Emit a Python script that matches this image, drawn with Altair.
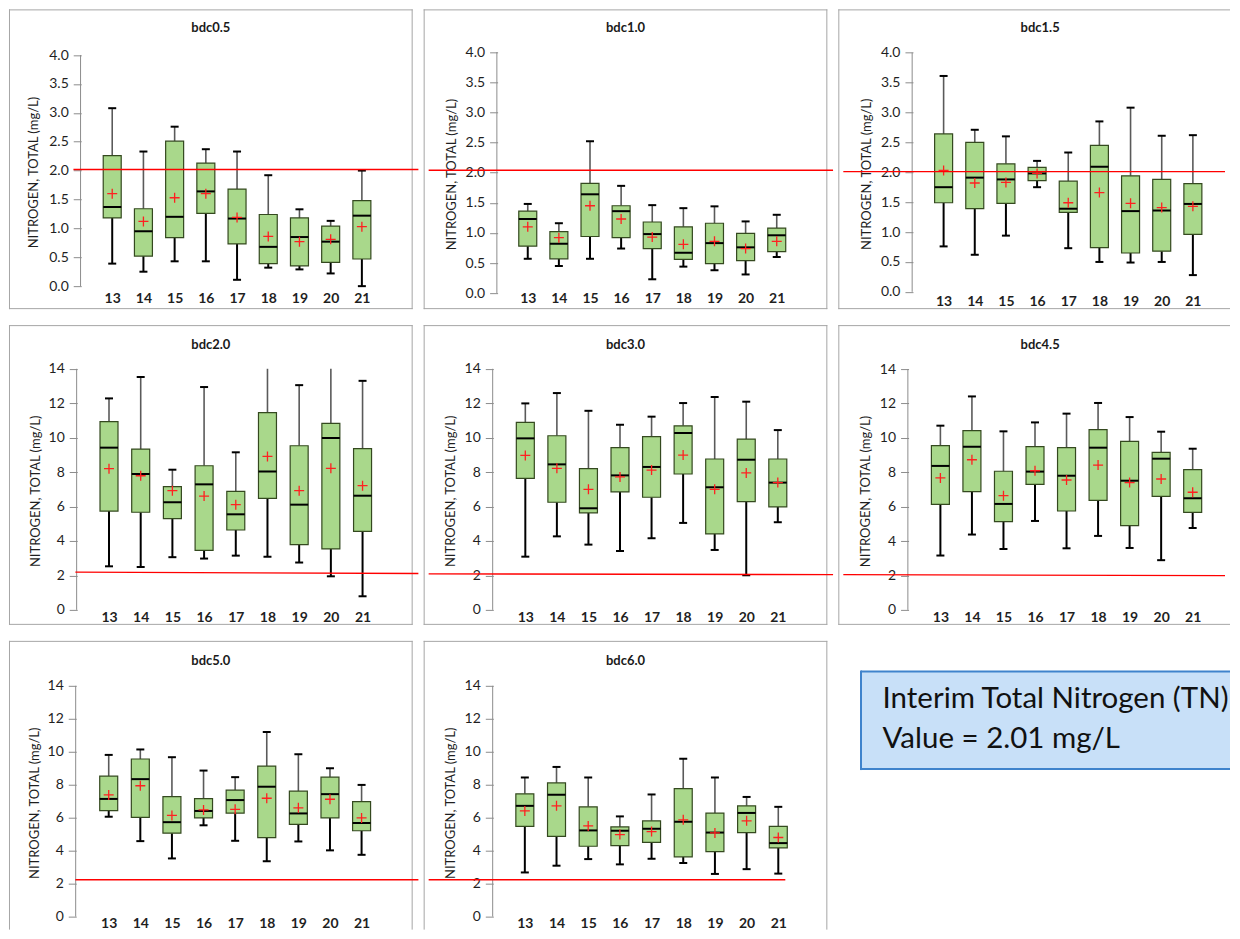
import altair as alt
import pandas as pd

YEARS = [13, 14, 15, 16, 17, 18, 19, 20, 21]
Y_TITLE = "NITROGEN, TOTAL (mg/L)"
TICKS_SMALL = [0.0, 0.5, 1.0, 1.5, 2.0, 2.5, 3.0, 3.5, 4.0]
TICKS_LARGE = [0, 2, 4, 6, 8, 10, 12, 14]
BOX_TEXT = "Interim Total Nitrogen (TN)\nValue = 2.01 mg/L"

# ---- bdc0.5
LOW_05 = [0.39, 0.25, 0.43, 0.43, 0.11, 0.32, 0.29, 0.22, 0.00]
Q1_05 = [1.18, 0.52, 0.84, 1.26, 0.73, 0.39, 0.35, 0.41, 0.47]
MED_05 = [1.37, 0.95, 1.20, 1.64, 1.17, 0.68, 0.85, 0.77, 1.22]
Q3_05 = [2.26, 1.34, 2.51, 2.13, 1.68, 1.24, 1.18, 1.04, 1.48]
HIGH_05 = [3.08, 2.33, 2.76, 2.37, 2.33, 1.92, 1.33, 1.13, 2.00]
MEAN_05 = [1.60, 1.12, 1.53, 1.60, 1.19, 0.86, 0.77, 0.81, 1.03]
# ---- bdc1.0
LOW_10 = [0.57, 0.45, 0.57, 0.74, 0.23, 0.44, 0.38, 0.31, 0.60]
Q1_10 = [0.78, 0.57, 0.94, 0.92, 0.74, 0.56, 0.49, 0.54, 0.69]
MED_10 = [1.23, 0.82, 1.64, 1.36, 0.98, 0.67, 0.83, 0.76, 0.96]
Q3_10 = [1.36, 1.02, 1.82, 1.45, 1.18, 1.10, 1.16, 0.99, 1.08]
HIGH_10 = [1.48, 1.16, 2.52, 1.78, 1.46, 1.41, 1.44, 1.19, 1.30]
MEAN_10 = [1.10, 0.92, 1.45, 1.23, 0.93, 0.81, 0.86, 0.74, 0.86]
# ---- bdc1.5
LOW_15 = [0.76, 0.62, 0.94, 1.75, 0.73, 0.50, 0.49, 0.50, 0.28]
Q1_15 = [1.49, 1.39, 1.48, 1.86, 1.33, 0.74, 0.65, 0.68, 0.96]
MED_15 = [1.75, 1.91, 1.88, 1.98, 1.39, 2.09, 1.35, 1.36, 1.47]
Q3_15 = [2.64, 2.50, 2.14, 2.08, 1.85, 2.45, 1.94, 1.88, 1.81]
HIGH_15 = [3.61, 2.71, 2.60, 2.19, 2.33, 2.85, 3.08, 2.61, 2.62]
MEAN_15 = [2.03, 1.82, 1.83, 1.98, 1.49, 1.66, 1.48, 1.41, 1.43]
# ---- bdc2.0
LOW_20 = [2.53, 2.49, 3.06, 2.98, 3.15, 3.09, 2.75, 1.95, 0.79]
Q1_20 = [5.74, 5.67, 5.30, 3.46, 4.64, 6.48, 3.79, 3.54, 4.56]
MED_20 = [9.42, 7.89, 6.25, 7.29, 5.55, 8.04, 6.11, 9.98, 6.63]
Q3_20 = [10.93, 9.34, 7.16, 8.37, 6.88, 11.45, 9.53, 10.83, 9.36]
HIGH_20 = [12.28, 13.52, 8.14, 12.94, 9.15, 14.80, 13.05, 14.60, 13.30]
MEAN_20 = [8.20, 7.79, 6.92, 6.61, 6.11, 8.91, 6.92, 8.22, 7.21]
# ---- bdc3.0
LOW_30 = [3.09, 4.27, 3.79, 3.42, 4.16, 5.05, 3.48, 2.01, 5.09]
Q1_30 = [7.64, 6.25, 5.63, 6.85, 6.54, 7.89, 4.41, 6.29, 5.98]
MED_30 = [9.96, 8.45, 5.90, 7.81, 8.30, 10.27, 7.12, 8.72, 7.39]
Q3_30 = [10.89, 10.11, 8.20, 9.42, 10.06, 10.69, 8.76, 9.92, 8.76]
HIGH_30 = [11.99, 12.59, 11.56, 10.75, 11.22, 12.01, 12.36, 12.09, 10.44]
MEAN_30 = [8.97, 8.22, 7.00, 7.72, 8.12, 8.99, 7.00, 7.95, 7.39]
# ---- bdc4.5
LOW_45 = [3.16, 4.38, 3.54, 5.17, 3.58, 4.30, 3.60, 2.89, 4.76]
Q1_45 = [6.14, 6.87, 5.13, 7.30, 5.75, 6.37, 4.90, 6.60, 5.67]
MED_45 = [8.37, 9.49, 6.16, 8.04, 7.80, 9.43, 7.51, 8.79, 6.49]
Q3_45 = [9.55, 10.42, 8.06, 9.49, 9.43, 10.48, 9.80, 9.16, 8.15]
HIGH_45 = [10.71, 12.41, 10.38, 10.90, 11.41, 12.03, 11.21, 10.36, 9.37]
MEAN_45 = [7.67, 8.73, 6.64, 8.09, 7.55, 8.42, 7.40, 7.61, 6.84]
# ---- bdc5.0
LOW_50 = [6.06, 4.58, 3.53, 5.54, 4.60, 3.36, 4.56, 4.02, 3.75]
Q1_50 = [6.43, 6.02, 5.06, 5.99, 6.28, 4.79, 5.60, 5.99, 5.21]
MED_50 = [7.14, 8.34, 5.73, 6.41, 7.07, 7.88, 6.26, 7.43, 5.68]
Q3_50 = [8.52, 9.56, 7.28, 7.16, 7.67, 9.13, 7.61, 8.46, 6.97]
HIGH_50 = [9.81, 10.14, 9.67, 8.86, 8.46, 11.20, 9.85, 9.00, 7.99]
MEAN_50 = [7.38, 7.94, 6.14, 6.47, 6.51, 7.18, 6.60, 7.12, 5.99]
# ---- bdc6.0
LOW_60 = [2.68, 3.09, 3.49, 3.17, 3.51, 3.26, 2.59, 2.88, 2.61]
Q1_60 = [5.48, 4.87, 4.27, 4.31, 4.50, 3.63, 3.94, 5.10, 4.17]
MED_60 = [6.72, 7.40, 5.23, 5.21, 5.33, 5.75, 5.10, 6.29, 4.46]
Q3_60 = [7.45, 8.11, 6.66, 5.44, 5.81, 7.76, 6.28, 6.72, 5.48]
HIGH_60 = [8.44, 9.08, 8.44, 6.08, 7.41, 9.58, 8.44, 7.26, 6.66]
MEAN_60 = [6.41, 6.72, 5.50, 4.98, 5.16, 5.87, 5.08, 5.81, 4.80]

# interim TN reference line as drawn across each panel (start, end level)
REF_05 = [2.02, 2.02]
REF_10 = [2.04, 2.04]
REF_15 = [2.01, 2.01]
REF_20 = [2.19, 2.11]
REF_30 = [2.09, 2.05]
REF_45 = [2.05, 1.99]
REF_50 = [2.24, 2.24]
REF_60 = [2.24, 2.24]

# ---- layout (pixels inside each panel)
# width, height, axis_x, cat13_x, cat21_x, y_top, y_zero, ytitle_x, xlabel_y, title_y,
# ref_x0, ref_x1, border sides
G05 = (404, 300, 68.3, 100.8, 357.0, 45.7, 277.0, 25.0, 289.3, 18.3, 61, 415, "tlrb")
G10 = (404, 300, 70.0, 101.7, 357.2, 42.7, 284.0, 28.0, 289.0, 18.3, 0, 415, "tlrb")
G15 = (392, 300, 70.7, 103.0, 359.0, 43.3, 282.7, 28.0, 292.3, 18.3, 0, 392, "tlb")
G20 = (404, 300, 64.3, 97.5, 357.7, 43.7, 285.0, 26.7, 293.0, 19.7, 63, 415, "tlrb")
G30 = (404, 300, 65.7, 99.2, 358.3, 43.7, 285.0, 27.3, 293.0, 19.7, 0, 415, "tlrb")
G45 = (392, 300, 66.3, 99.7, 358.8, 44.0, 285.0, 27.3, 293.0, 19.7, 0, 392, "tlb")
G50 = (404, 289, 63.3, 97.2, 356.7, 45.0, 276.0, 26.0, 283.0, 19.7, 63, 415, "tlr")
G60 = (404, 289, 65.7, 98.7, 358.8, 45.0, 276.0, 26.7, 283.0, 19.7, 0, 366, "tlr")

FONT = "Lato"
TXT = "#1f1f1f"
GREEN = "#a9d88b"
GREEN_EDGE = "#34491f"
AXIS_GRAY = "#8c8c8c"
BORDER_GRAY = "#a6a6a6"
ONE = pd.DataFrame({"a": [0]})


def edge_rules(W, H, sides, color, width):
    rules = []
    if "t" in sides:
        rules.append(alt.Chart(ONE).mark_rule(color=color, strokeWidth=width)
                     .encode(x=alt.value(0), x2=alt.value(W), y=alt.value(0.5)))
    if "b" in sides:
        rules.append(alt.Chart(ONE).mark_rule(color=color, strokeWidth=width)
                     .encode(x=alt.value(0), x2=alt.value(W), y=alt.value(H - 0.5)))
    if "l" in sides:
        rules.append(alt.Chart(ONE).mark_rule(color=color, strokeWidth=width)
                     .encode(x=alt.value(0.5), y=alt.value(0), y2=alt.value(H)))
    if "r" in sides:
        rules.append(alt.Chart(ONE).mark_rule(color=color, strokeWidth=width)
                     .encode(x=alt.value(W - 0.5), y=alt.value(0), y2=alt.value(H)))
    return rules


def panel(title, low, q1, med, q3, high, mean, ref, geo, ticks, fmt):
    W, H, ax, c13, c21, ytop, ybot, tcx, ylab, ty, rx0, rx1, sides = geo
    ymax = ticks[-1]
    s = (c21 - c13) / 8.0
    k = (ybot - ytop) / ymax

    def xd(px):
        return 13 + (px - c13) / s

    xs = alt.Scale(domain=[xd(0), xd(W)], nice=False, zero=False)
    ys = alt.Scale(domain=[-(H - ybot) / k, ymax + ytop / k], nice=False, zero=False)
    xaxis = alt.Axis(values=YEARS, format="d", offset=ybot - H, domain=False,
                     ticks=False, tickSize=0, grid=False,
                     labelPadding=ylab - ybot, labelBaseline="middle",
                     labelFont=FONT, labelFontSize=14, labelFontWeight="bold",
                     labelColor=TXT, labelFlush=False, labelOverlap=False, title=None)
    yaxis = alt.Axis(values=ticks, format=fmt, offset=-(ax + 4), domain=False,
                     grid=False, tickSize=8, tickColor=AXIS_GRAY, tickWidth=1,
                     labelPadding=5, labelFont=FONT, labelFontSize=14,
                     labelColor=TXT, labelFlush=False, labelOverlap=False,
                     title=Y_TITLE, titleFont=FONT, titleFontSize=13,
                     titleFontWeight="normal", titleColor=TXT, titleAngle=270,
                     titleAlign="center", titleBaseline="middle",
                     titleX=tcx - (ax + 4), titleY=(ytop + ybot) / 2 + 1.5)

    def X(f):
        return alt.X(f, type="quantitative", scale=xs, axis=xaxis)

    def Y(f):
        return alt.Y(f, type="quantitative", scale=ys, axis=yaxis)

    df = pd.DataFrame({"year": YEARS, "low": low, "q1": q1, "med": med,
                       "q3": q3, "high": high, "mean": mean})
    base = alt.Chart(df)

    axis_line = alt.Chart(pd.DataFrame({"year": [xd(ax)], "y0": [0.0], "y1": [ymax]})) \
        .mark_rule(color=AXIS_GRAY, strokeWidth=1) \
        .encode(x=X("year"), y=Y("y0"), y2="y1")
    lower = base.mark_rule(color="#000000", strokeWidth=2) \
        .encode(x=X("year"), y=Y("low"), y2="q1")
    upper = base.transform_calculate(hc=f"min(datum.high, {ymax})") \
        .mark_rule(color="#5a5a5a", strokeWidth=1.6) \
        .encode(x=X("year"), y=Y("q3"), y2="hc")
    cap_hi = base.transform_filter(f"datum.high <= {ymax}") \
        .mark_tick(orient="horizontal", size=8, thickness=2, color="#000000", opacity=1) \
        .encode(x=X("year"), y=Y("high"))
    cap_lo = base.mark_tick(orient="horizontal", size=8, thickness=2, color="#000000", opacity=1) \
        .encode(x=X("year"), y=Y("low"))
    box = base.mark_bar(size=18, fill=GREEN, stroke=GREEN_EDGE, strokeWidth=1.2, opacity=1) \
        .encode(x=X("year"), y=Y("q1"), y2="q3")
    median = base.mark_tick(orient="horizontal", size=18, thickness=2, color="#000000", opacity=1) \
        .encode(x=X("year"), y=Y("med"))
    means = base.mark_point(shape="M-1,0L1,0M0,-1L0,1", size=100, filled=False,
                            color="#ff2020", strokeWidth=1.3, opacity=1) \
        .encode(x=X("year"), y=Y("mean"))
    ref_df = pd.DataFrame({"year": [xd(rx0), xd(rx1)], "level": ref})
    ref_line = alt.Chart(ref_df).mark_line(color="#ff0000", strokeWidth=1.4) \
        .encode(x=X("year"), y=Y("level"))
    head = alt.Chart(pd.DataFrame({"name": [title]})) \
        .mark_text(font=FONT, fontSize=13, fontWeight="bold", color="#1a1a1a",
                   align="center", baseline="middle") \
        .encode(x=alt.value(202), y=alt.value(ty), text="name:N")

    layers = edge_rules(W, H, sides, BORDER_GRAY, 1) + \
        [axis_line, lower, upper, cap_hi, cap_lo, box, median, means, ref_line, head]
    return alt.layer(*layers).properties(
        width=W, height=H, view=alt.ViewBackground(stroke="transparent"))


p05 = panel("bdc0.5", LOW_05, Q1_05, MED_05, Q3_05, HIGH_05, MEAN_05, REF_05, G05, TICKS_SMALL, ".1f")
p10 = panel("bdc1.0", LOW_10, Q1_10, MED_10, Q3_10, HIGH_10, MEAN_10, REF_10, G10, TICKS_SMALL, ".1f")
p15 = panel("bdc1.5", LOW_15, Q1_15, MED_15, Q3_15, HIGH_15, MEAN_15, REF_15, G15, TICKS_SMALL, ".1f")
p20 = panel("bdc2.0", LOW_20, Q1_20, MED_20, Q3_20, HIGH_20, MEAN_20, REF_20, G20, TICKS_LARGE, "d")
p30 = panel("bdc3.0", LOW_30, Q1_30, MED_30, Q3_30, HIGH_30, MEAN_30, REF_30, G30, TICKS_LARGE, "d")
p45 = panel("bdc4.5", LOW_45, Q1_45, MED_45, Q3_45, HIGH_45, MEAN_45, REF_45, G45, TICKS_LARGE, "d")
p50 = panel("bdc5.0", LOW_50, Q1_50, MED_50, Q3_50, HIGH_50, MEAN_50, REF_50, G50, TICKS_LARGE, "d")
p60 = panel("bdc6.0", LOW_60, Q1_60, MED_60, Q3_60, HIGH_60, MEAN_60, REF_60, G60, TICKS_LARGE, "d")

# annotation box (its right side runs off the page, as in the original)
NW, NH = 392, 289
BX0, BY0, BY1 = 22.7, 30.7, 128.3
note_df = pd.DataFrame({"label": [BOX_TEXT]})
note_fill = alt.Chart(note_df).mark_rect(fill="#c8e0f8") \
    .encode(x=alt.value(BX0), x2=alt.value(NW), y=alt.value(BY0), y2=alt.value(BY1))
note_edges = [
    alt.Chart(ONE).mark_rule(color="#3f83cc", strokeWidth=2)
    .encode(x=alt.value(BX0), x2=alt.value(NW), y=alt.value(BY0)),
    alt.Chart(ONE).mark_rule(color="#3f83cc", strokeWidth=2)
    .encode(x=alt.value(BX0), x2=alt.value(NW), y=alt.value(BY1)),
    alt.Chart(ONE).mark_rule(color="#3f83cc", strokeWidth=2)
    .encode(x=alt.value(BX0), y=alt.value(BY0 - 1), y2=alt.value(BY1 + 1)),
]
note_txt = alt.Chart(note_df).mark_text(align="left", baseline="alphabetic", lineBreak="\n",
                                        lineHeight=40.6, font=FONT, fontSize=29.5,
                                        color="#111111") \
    .encode(x=alt.value(44.3), y=alt.value(66.7), text="label:N")
note = alt.layer(note_fill, *note_edges, note_txt).properties(
    width=NW, height=NH, view=alt.ViewBackground(stroke="transparent"))

chart = alt.concat(p05, p10, p15, p20, p30, p45, p50, p60, note,
                   columns=3, spacing={"row": 16, "column": 11}, bounds="flush") \
    .properties(padding=0, background="white") \
    .configure(font=FONT) \
    .configure_view(stroke="transparent")

chart.save("out.html", embed_options={"renderer": "svg", "actions": False})
